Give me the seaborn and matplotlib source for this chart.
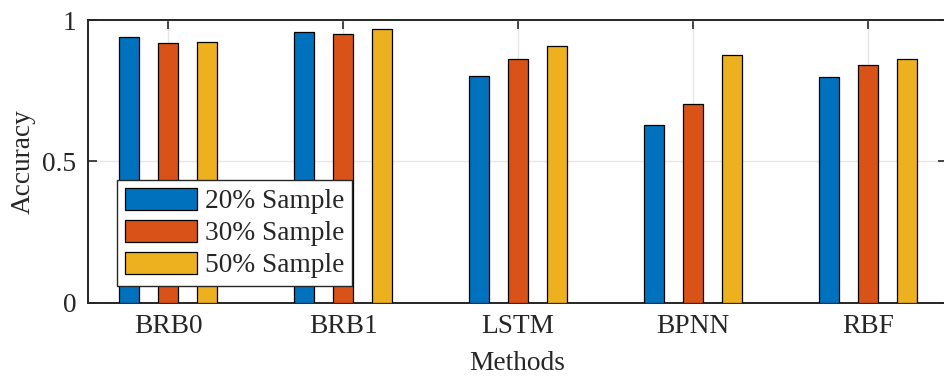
import matplotlib
matplotlib.use("Agg")
import matplotlib.pyplot as plt
import seaborn as sns
import pandas as pd

methods = ["BRB0", "BRB1", "LSTM", "BPNN", "RBF"]
samples = ["20% Sample", "30% Sample", "50% Sample"]
acc_20 = [0.940, 0.956, 0.802, 0.628, 0.798]
acc_30 = [0.917, 0.950, 0.862, 0.702, 0.842]
acc_50 = [0.922, 0.968, 0.909, 0.875, 0.862]
colors = ["#0072BD", "#D95319", "#EDB120"]
yticks = [0, 0.5, 1]
ytick_labels = ["0", "0.5", "1"]

rows = []
for s, vals in zip(samples, [acc_20, acc_30, acc_50]):
    for m, v in zip(methods, vals):
        rows.append({"Method": m, "Sample": s, "Accuracy": v})
df = pd.DataFrame(rows)

sns.set_style("white")
plt.rcParams["font.family"] = ["Liberation Serif", "DejaVu Serif"]
FS = 19.7
plt.rcParams["font.size"] = FS

fig = plt.figure(figsize=(9.44, 3.78), dpi=100)
ax = fig.add_axes([87.7 / 944, 1 - 302.5 / 378, (946.7 - 87.7) / 944, (302.5 - 20) / 378])

sns.barplot(data=df, x="Method", y="Accuracy", hue="Sample", order=methods,
            hue_order=samples, palette=colors, width=0.67, gap=0.49,
            edgecolor="black", linewidth=0.9, saturation=1, ax=ax, zorder=3)

ax.set_xlim(-0.459, 4.450)
ax.set_ylim(0, 1)
ax.set_yticks(yticks)
ax.set_yticklabels(ytick_labels)
ax.set_xlabel("Methods", fontsize=FS, color="#262626", labelpad=9)
ax.set_ylabel("Accuracy", fontsize=FS, color="#262626", labelpad=5)

ax.grid(True, color="#e6e6e6", linewidth=1.0, zorder=0)
ax.set_axisbelow(True)
for sp in ax.spines.values():
    sp.set_visible(True)
    sp.set_color("#262626")
    sp.set_linewidth(1.4)
ax.tick_params(axis="both", direction="in", length=6.5, width=1.2, color="#262626",
               labelsize=FS, labelcolor="#262626", top=True, right=True,
               left=True, bottom=True, pad=8)

ax.legend(loc="lower left", bbox_to_anchor=(0.034, 0.058), borderaxespad=0,
          fontsize=FS, handlelength=2.65, handleheight=0.88, handletextpad=0.28,
          labelspacing=0.2, borderpad=0.28, frameon=True, fancybox=False,
          edgecolor="#262626", framealpha=1)
leg = ax.get_legend()
leg.get_frame().set_linewidth(1.0)

fig.savefig("out.png", dpi=100)
